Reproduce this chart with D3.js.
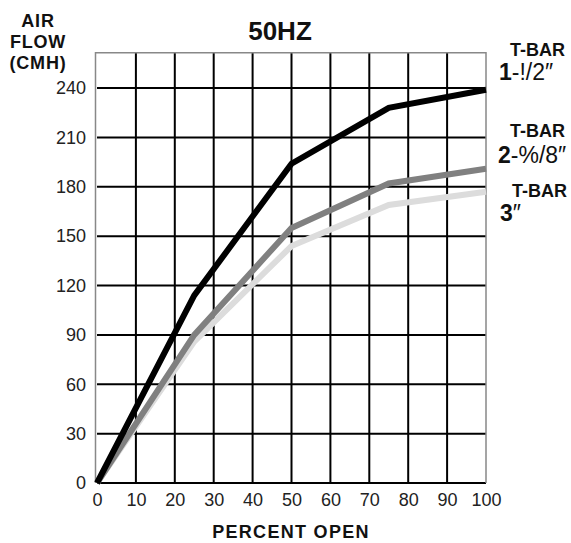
<!DOCTYPE html>
<html>
<head>
<meta charset="utf-8">
<script src="https://cdn.jsdelivr.net/npm/d3@7"></script>
<style>
  body { margin: 0; background: #fff; }
  svg { display: block; font-family: "Liberation Sans", Arial, sans-serif; }
</style>
</head>
<body>
<svg id="chart" width="571" height="543"></svg>
<script>
// values
const percentOpen = [0, 25, 50, 75, 100];
const tbar1 = [0, 114, 194, 228, 239];   // T-BAR 1-1/2"
const tbar2 = [0, 90, 155, 182, 191];    // T-BAR 2-5/8"
const tbar3 = [0, 86, 144, 169, 177];    // T-BAR 3"
const xTicks = [0, 10, 20, 30, 40, 50, 60, 70, 80, 90, 100];
const yTicks = [0, 30, 60, 90, 120, 150, 180, 210, 240];

const series = [
  {name: "3", values: tbar3, color: "#dcdcdc"},
  {name: "2", values: tbar2, color: "#808080"},
  {name: "1", values: tbar1, color: "#000000"}
];

const svg = d3.select("#chart");
const plotL = 97, plotR = 486, plotT = 52.7, plotB = 483;

const x = d3.scaleLinear().domain([0, 100]).range([plotL, plotR]);
const y = d3.scaleLinear().domain([0, 261.5]).range([plotB, plotT]);

// grid
const grid = svg.append("g");
grid.selectAll("line.v")
  .data(xTicks.filter(d => d > 0 && d < 100))
  .enter().append("line")
  .attr("x1", d => x(d)).attr("x2", d => x(d))
  .attr("y1", y(0)).attr("y2", plotT)
  .attr("stroke", "#000").attr("stroke-width", 2);
grid.selectAll("line.h")
  .data(yTicks)
  .enter().append("line")
  .attr("x1", plotL).attr("x2", plotR)
  .attr("y1", d => y(d)).attr("y2", d => y(d))
  .attr("stroke", "#000").attr("stroke-width", 2);

// frame
svg.append("path")
  .attr("d", `M${plotL - 1.5},${plotB}V${plotT}H${plotR}V${plotB}`)
  .attr("fill", "none")
  .attr("stroke", "#888")
  .attr("stroke-width", 1.5);

// axes (labels only)
const yAxis = svg.append("g")
  .attr("transform", `translate(${plotL},0)`)
  .call(d3.axisLeft(y).tickValues(yTicks).tickSize(0).tickPadding(11));
const xAxis = svg.append("g")
  .attr("transform", `translate(0,${plotB})`)
  .call(d3.axisBottom(x).tickValues(xTicks).tickSize(0).tickPadding(10));
[yAxis, xAxis].forEach(a => {
  a.select(".domain").remove();
  a.selectAll("text")
    .attr("font-family", "Liberation Sans, Arial, sans-serif")
    .attr("font-size", 18)
    .attr("fill", "#222");
});

// lines
const line = d3.line()
  .x((d, i) => x(percentOpen[i]))
  .y(d => y(d));
svg.selectAll("path.series")
  .data(series)
  .enter().append("path")
  .attr("class", "series")
  .attr("d", d => line(d.values))
  .attr("fill", "none")
  .attr("stroke", d => d.color)
  .attr("stroke-width", 6)
  .attr("stroke-linejoin", "miter");

// title
svg.append("text")
  .attr("x", 280).attr("y", 40)
  .attr("text-anchor", "middle")
  .attr("font-size", 26).attr("font-weight", "bold")
  .attr("fill", "#111")
  .text("50HZ");

// y title
const yTitle = ["AIR", "FLOW", "(CMH)"];
svg.selectAll("text.ytitle")
  .data(yTitle)
  .enter().append("text")
  .attr("class", "ytitle")
  .attr("x", 38).attr("y", (d, i) => 27 + i * 21)
  .attr("text-anchor", "middle")
  .attr("font-size", 18).attr("font-weight", "bold")
  .attr("letter-spacing", 0.8)
  .attr("fill", "#111")
  .text(d => d);

// x title
svg.append("text")
  .attr("x", 291).attr("y", 538)
  .attr("text-anchor", "middle")
  .attr("font-size", 18).attr("font-weight", "bold")
  .attr("letter-spacing", 1.3)
  .attr("fill", "#111")
  .text("PERCENT OPEN");

// series labels
const labels = [
  {head: "T-BAR", num: "1", rest: "-!/2″", hx: 510, hy: 56, sx: 499, sy: 80},
  {head: "T-BAR", num: "2", rest: "-%/8″", hx: 510, hy: 137, sx: 498, sy: 163},
  {head: "T-BAR", num: "3", rest: "″", hx: 512, hy: 197, sx: 500, sy: 221}
];
labels.forEach(l => {
  svg.append("text")
    .attr("x", l.hx).attr("y", l.hy)
    .attr("font-size", 18).attr("font-weight", "bold")
    .attr("fill", "#111")
    .text(l.head);
  const t = svg.append("text")
    .attr("x", l.sx).attr("y", l.sy)
    .attr("font-size", 23)
    .attr("fill", "#111");
  t.append("tspan").attr("font-weight", "bold").text(l.num);
  t.append("tspan").text(l.rest);
});
</script>
</body>
</html>
